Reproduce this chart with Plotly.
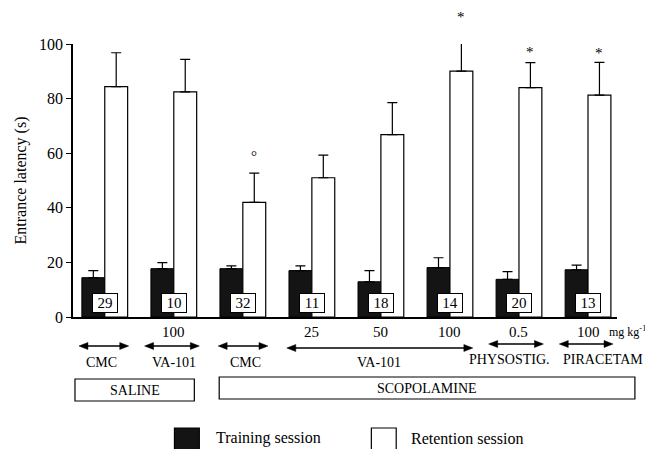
import plotly.graph_objects as go

# ---------------- data ----------------
groups = [0, 1, 2, 3, 4, 5, 6, 7]
training = [14.4, 17.7, 17.7, 17.0, 12.9, 18.1, 13.8, 17.3]
training_err = [2.6, 2.2, 1.0, 1.7, 4.1, 3.6, 2.8, 1.7]
retention = [84.4, 82.5, 42.0, 51.0, 66.8, 90.1, 84.0, 81.3]
retention_err = [12.4, 11.9, 10.7, 8.3, 11.7, 14.2, 9.2, 12.0]
n_animals = ["29", "10", "32", "11", "18", "14", "20", "13"]
doses = ["", "100", "", "25", "50", "100", "0.5", "100"]
signif = ["", "", "°", "", "", "*", "*", "*"]
signif_y = [None, None, 59, None, None, 110.0, 97.2, 96.6]

treat_labels = ["CMC", "VA-101", "CMC", "VA-101", "PHYSOSTIG.", "PIRACETAM"]
pretreat_labels = ["SALINE", "SCOPOLAMINE"]
legend_names = ["Training session", "Retention session"]

FONT = "Liberation Serif"
OFF = 8  # page body margin
W, H = 653 - OFF, 449 - OFF
# plot area in page pixels
PX0, PX1, PY0, PY1 = 70, 617, 44, 317
L, T = PX0 - OFF, PY0 - OFF
R, B = W - (PX1 - OFF), H - (PY1 - OFF)
PW, PH = PX1 - PX0, PY1 - PY0


def px(x):
    return (x - PX0) / PW


def py(y):
    return (PY1 - y) / PH


fig = go.Figure()
fig.add_trace(go.Bar(
    x=groups, y=training, name=legend_names[0],
    marker=dict(color="#141414", line=dict(color="black", width=1)),
    error_y=dict(type="data", array=training_err, arrayminus=[0] * 8,
                 symmetric=False, color="black", thickness=1.2, width=5),
    cliponaxis=False, showlegend=False,
))
fig.add_trace(go.Bar(
    x=groups, y=retention, name=legend_names[1],
    marker=dict(color="white", line=dict(color="black", width=1.2)),
    error_y=dict(type="data", array=retention_err, arrayminus=[0] * 8,
                 symmetric=False, color="black", thickness=1.2, width=5),
    cliponaxis=False, showlegend=False,
))

ann = []
shapes = []


def text(x, y, s, size, xref="paper", xanchor="center", yref="paper", **kw):
    d = dict(x=x, y=y, xref=xref, yref=yref, text=s, showarrow=False,
             xanchor=xanchor, yanchor="middle",
             font=dict(family=FONT, size=size, color="black"))
    d.update(kw)
    ann.append(d)


# n boxes
for g, n in zip(groups, n_animals):
    text(g, 5.3, n, 15, xref="x", yref="y", bgcolor="white",
         bordercolor="black", borderwidth=1, borderpad=1, width=22, height=16)
# significance marks
for g, s, sy in zip(groups, signif, signif_y):
    if s:
        text(g + 0.165, sy / 100.0, s, 15, xref="x")
# doses
for g, d in zip(groups, doses):
    if d:
        text(g, py(332), d, 15, xref="x")
text(px(607), py(331), "mg kg<sup>-1</sup>", 12, xanchor="left")

# arrows (pixel spans) and treatment labels
arrow_spans = [(76, 126, 346), (142, 197, 346), (216, 266, 346),
               (285, 472, 348), (488, 543, 344), (559, 613, 344)]
label_x = [99, 172, 243, 378, 509, 603]
label_y = [362, 362, 362, 362, 360, 360]
HL, HW = 9, 3.5  # arrow head length / half width, pixels
for (x0, x1, yy), lab, lx, ly in zip(arrow_spans, treat_labels, label_x, label_y):
    shapes.append(dict(type="line", xref="paper", yref="paper",
                       x0=px(x0 + 2), x1=px(x1 - 2), y0=py(yy), y1=py(yy),
                       line=dict(color="black", width=1.3)))
    for tip, back in ((x0, x0 + HL), (x1, x1 - HL)):
        path = "M {} {} L {} {} L {} {} Z".format(
            px(tip), py(yy), px(back), py(yy - HW), px(back), py(yy + HW))
        shapes.append(dict(type="path", xref="paper", yref="paper", path=path,
                           fillcolor="black", line=dict(color="black", width=0.5)))
    text(px(lx), py(ly), lab, 14)

# pretreatment boxes
boxes = [(72, 192, 379, 401), (217, 635, 377, 399)]
for (x0, x1, y0, y1), lab in zip(boxes, pretreat_labels):
    shapes.append(dict(type="rect", xref="paper", yref="paper",
                       x0=px(x0), x1=px(x1), y0=py(y0), y1=py(y1),
                       line=dict(color="black", width=1.2),
                       fillcolor="white", layer="below"))
    text(px((x0 + x1) / 2), py((y0 + y1) / 2), lab, 14)

# legend (drawn)
leg = [(172, 197, "#141414", 212), (370, 395, "white", 408)]
for (x0, x1, col, tx), name in zip(leg, legend_names):
    shapes.append(dict(type="rect", xref="paper", yref="paper",
                       x0=px(x0), x1=px(x1), y0=py(428), y1=py(452),
                       line=dict(color="black", width=1.2), fillcolor=col))
    text(px(tx), py(438), name, 16, xanchor="left")

fig.update_layout(
    width=W, height=H,
    margin=dict(l=L, r=R, t=T, b=B, pad=0),
    paper_bgcolor="white", plot_bgcolor="white",
    barmode="group", bargap=0.337, bargroupgap=0,
    font=dict(family=FONT, color="black"),
    annotations=ann, shapes=shapes,
    xaxis=dict(range=[-0.46, 7.42], showline=True, linecolor="black",
               linewidth=1.6, showticklabels=False, ticks="",
               showgrid=False, zeroline=False),
    yaxis=dict(range=[0, 100], showline=True, linecolor="black",
               linewidth=1.6, ticks="outside", ticklen=5, tickwidth=1.2,
               tickcolor="black", tickvals=[0, 20, 40, 60, 80, 100],
               tickfont=dict(family=FONT, size=16, color="black"),
               showgrid=False, zeroline=False,
               title=dict(text="Entrance latency (s)", standoff=8,
                          font=dict(family=FONT, size=16, color="black"))),
)

fig.write_html("out.html")
